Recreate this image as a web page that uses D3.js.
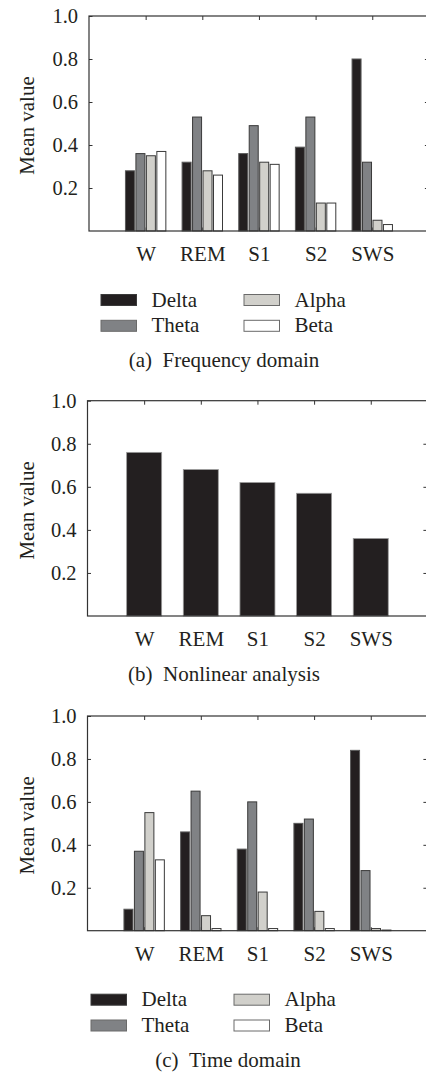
<!DOCTYPE html>
<html>
<head>
<meta charset="utf-8">
<script src="https://cdn.jsdelivr.net/npm/d3@7/dist/d3.min.js"></script>
<style>
  html, body { margin: 0; padding: 0; background: #fff; }
  svg { display: block; }
  text { font-family: "Liberation Serif", "Times New Roman", serif; fill: #231f20; }
</style>
</head>
<body>
<svg id="chart" width="426" height="1072"></svg>
<script>
// ---------- data ----------
const categories = ["W", "REM", "S1", "S2", "SWS"];
const bands = ["Delta", "Theta", "Alpha", "Beta"];
const bandColors = ["#231f20", "#808285", "#d1d0cb", "#ffffff"];
const bandStrokes = ["#5a5a5a", "#3a3a3a", "#3a3a3a", "#3a3a3a"];

// (a) Frequency domain
const freqDelta = [0.28, 0.32, 0.36, 0.39, 0.80];
const freqTheta = [0.36, 0.53, 0.49, 0.53, 0.32];
const freqAlpha = [0.35, 0.28, 0.32, 0.13, 0.05];
const freqBeta  = [0.37, 0.26, 0.31, 0.13, 0.03];

// (b) Nonlinear analysis
const nonlinearValues = [0.76, 0.68, 0.62, 0.57, 0.36];

// (c) Time domain
const timeDelta = [0.10, 0.46, 0.38, 0.50, 0.84];
const timeTheta = [0.37, 0.65, 0.60, 0.52, 0.28];
const timeAlpha = [0.55, 0.07, 0.18, 0.09, 0.01];
const timeBeta  = [0.33, 0.01, 0.01, 0.01, 0.003];

const yTicks = [0.2, 0.4, 0.6, 0.8, 1.0];
const yLabel = "Mean value";
const captions = [["(a)", "Frequency domain"], ["(b)", "Nonlinear analysis"], ["(c)", "Time domain"]];

// ---------- layout ----------
const svg = d3.select("#chart");
const step = 56.65;
const FS = 21;
const panels = [
  { top: 16,    bottom: 231,   left: 89,   series: [freqDelta, freqTheta, freqAlpha, freqBeta], legendLeft: 101, caption: captions[0], captionX: 224, captionY: 366.5 },
  { top: 400.7, bottom: 616,   left: 87.5, series: [nonlinearValues], legendLeft: null, caption: captions[1], captionX: 224, captionY: 680.5 },
  { top: 716,   bottom: 930.7, left: 87.5, series: [timeDelta, timeTheta, timeAlpha, timeBeta], legendLeft: 91, caption: captions[2], captionX: 228, captionY: 1066.5 }
];

panels.forEach(p => {
  const right = p.left + 6 * step;
  const x = d3.scaleLinear().domain([0, 6]).range([p.left, right]);
  const y = d3.scaleLinear().domain([0, 1]).range([p.bottom, p.top]);
  const g = svg.append("g");
  const axisColor = "#333";

  // bottom axis (ticks inward, under bars)
  const bx = g.append("g").attr("transform", `translate(0,${p.bottom})`)
    .call(d3.axisBottom(x).tickValues([1, 2, 3, 4, 5]).tickFormat((d, i) => categories[i])
      .tickSizeInner(-3.5).tickSizeOuter(0).tickPadding(15.2));
  bx.select(".domain").remove();
  bx.selectAll("line").attr("stroke", axisColor);
  bx.selectAll("text").attr("font-size", FS).style("font-family", '"Liberation Serif", serif').attr("fill", "#231f20");

  // bars
  if (p.series.length > 1) {
    const sub = d3.scaleBand().domain(bands).range([-20.2, 20.2]).paddingInner(0.14);
    bands.forEach((b, bi) => {
      g.append("g").selectAll("rect").data(p.series[bi]).join("rect")
        .attr("x", (d, i) => x(i + 1) + sub(b))
        .attr("width", sub.bandwidth())
        .attr("y", d => y(d))
        .attr("height", d => y(0) - y(d))
        .attr("fill", bandColors[bi])
        .attr("stroke", bandStrokes[bi])
        .attr("stroke-width", 1);
    });
  } else {
    const bw = 35;
    g.append("g").selectAll("rect").data(p.series[0]).join("rect")
      .attr("x", (d, i) => x(i + 1) - bw / 2)
      .attr("width", bw)
      .attr("y", d => y(d))
      .attr("height", d => y(0) - y(d))
      .attr("fill", bandColors[0])
      .attr("stroke", "#9a9a9a")
      .attr("stroke-width", 0.8);
  }

  // left axis with labels, inward ticks
  const ly = g.append("g").attr("transform", `translate(${p.left},0)`)
    .call(d3.axisLeft(y).tickValues(yTicks).tickFormat(d3.format(".1f"))
      .tickSizeInner(-3.5).tickSizeOuter(0).tickPadding(11));
  ly.select(".domain").remove();
  ly.selectAll("line").attr("stroke", axisColor);
  ly.selectAll("text").attr("font-size", 20.5).attr("dy", "0.33em").style("font-family", '"Liberation Serif", serif').attr("fill", "#231f20");

  // right axis, ticks only
  const ry = g.append("g").attr("transform", `translate(${right},0)`)
    .call(d3.axisRight(y).tickValues(yTicks.slice(0, 4)).tickFormat("").tickSizeInner(-4).tickSizeOuter(0));
  ry.select(".domain").remove();
  ry.selectAll("line").attr("stroke", axisColor);

  // top axis ticks
  const tx = g.append("g").attr("transform", `translate(0,${p.top})`)
    .call(d3.axisTop(x).tickValues([1, 2, 3, 4, 5]).tickFormat("").tickSizeInner(-4).tickSizeOuter(0));
  tx.select(".domain").remove();
  tx.selectAll("line").attr("stroke", axisColor);

  // box
  g.append("rect").attr("x", p.left).attr("y", p.top)
    .attr("width", right - p.left).attr("height", p.bottom - p.top)
    .attr("fill", "none").attr("stroke", axisColor).attr("stroke-width", 1.2);

  // y label
  g.append("text")
    .attr("transform", `translate(33.5,${(p.top + p.bottom) / 2 + 2}) rotate(-90)`)
    .attr("text-anchor", "middle")
    .attr("font-size", FS)
    .text(yLabel);

  // legend
  if (p.legendLeft !== null) {
    const lg = g.append("g");
    bands.forEach((b, bi) => {
      const col = Math.floor(bi / 2), row = bi % 2;
      const sx = p.legendLeft + col * 143;
      const sy = p.bottom + 63.5 + row * 25.8;
      lg.append("rect").attr("x", sx).attr("y", sy).attr("width", 35.5).attr("height", 11)
        .attr("fill", bandColors[bi])
        .attr("stroke", bi === 0 ? "#3a3a3a" : "#6a6a6a").attr("stroke-width", 1);
      lg.append("text").attr("x", sx + 50.5).attr("y", sy + 12)
        .attr("font-size", FS).text(b);
    });
  }

  // caption
  g.append("text").attr("x", p.captionX).attr("y", p.captionY).attr("text-anchor", "middle")
    .attr("font-size", FS)
    .text(p.caption[0] + "\u00a0\u00a0" + p.caption[1]);
});
</script>
</body>
</html>
